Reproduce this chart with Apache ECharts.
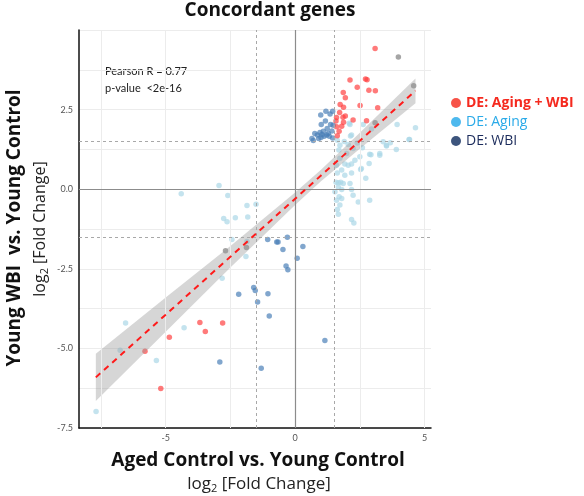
<!DOCTYPE html>
<html>
<head>
<meta charset="utf-8">
<script src="https://cdn.jsdelivr.net/npm/echarts@6/dist/echarts.min.js"></script>
<style>
  html, body { margin: 0; padding: 0; background: #fff; }
  #chart { width: 584px; height: 496px; }
</style>
</head>
<body>
<div id="chart"></div>
<script>
// points: [log2FC aged vs young, log2FC young WBI vs young]
const agingWbi = [
  [3.09, 4.42], [2.12, 3.43], [2.72, 3.46], [2.78, 3.44], [2.40, 3.20], [2.85, 3.11],
  [3.10, 3.09], [1.86, 3.04], [1.94, 2.87], [2.51, 2.63], [1.74, 2.66], [1.87, 2.57],
  [3.19, 2.56], [1.72, 2.41], [1.94, 2.30], [1.60, 2.25], [1.85, 2.26], [2.24, 2.17],
  [2.76, 2.15], [1.58, 2.14], [1.60, 1.96], [1.80, 1.98], [1.87, 2.10], [1.70, 1.82],
  [1.63, 1.68],
  [-3.68, -4.19], [-2.80, -4.20], [-3.47, -4.47], [-4.86, -4.65], [-5.80, -5.09], [-5.19, -6.26]
]
const wbiOnly = [
  [1.19, 2.45], [1.35, 2.36], [1.45, 2.45], [0.99, 2.33], [1.17, 2.14], [1.37, 2.03],
  [1.01, 2.03], [1.47, 2.01], [1.24, 1.91], [1.42, 1.83], [0.76, 1.75], [0.86, 1.70],
  [0.96, 1.78], [1.04, 1.72], [1.12, 1.66], [1.22, 1.70], [1.32, 1.66], [0.65, 1.59],
  [0.91, 1.59], [1.45, 1.61], [1.09, 1.82], [0.70, 1.53], [1.00, 1.62], [1.28, 1.75],
  [-1.06, -1.58], [-0.71, -1.66], [-0.66, -1.66], [-0.30, -1.51], [-0.47, -1.89], [0.30, -1.80],
  [0.08, -2.17], [-0.35, -2.41], [-0.28, -2.53], [-1.60, -3.09], [-1.54, -3.18], [-2.18, -3.30],
  [-1.05, -3.28], [-1.45, -3.54], [-1.00, -3.98], [1.15, -4.75], [-2.91, -5.43], [-1.31, -5.62]
]
const agingOnly = [
  [2.14, 1.67], [1.63, 1.54], [3.40, 1.49], [3.53, 1.38], [3.68, 1.46], [4.42, 1.56],
  [3.91, 1.25], [1.73, 1.38], [2.24, 1.28], [1.69, 1.23], [1.99, 1.12], [2.88, 1.10],
  [2.93, 1.08], [3.27, 1.07], [2.50, 1.02], [1.73, 0.97], [2.31, 0.91], [2.86, 0.81],
  [1.92, 0.79], [2.05, 0.75], [2.18, 0.79], [1.60, 0.75], [2.56, 0.65], [1.80, 0.60],
  [2.18, 0.51], [1.63, 0.51], [2.53, 0.62], [2.73, 0.34], [1.92, 0.44], [1.58, 0.22],
  [1.67, 0.20], [1.76, 0.22], [1.86, 0.18], [2.12, 0.18], [1.67, 0.07], [1.80, -0.01],
  [2.18, -0.01], [1.54, -0.08], [2.24, -0.19], [1.70, -0.24], [1.80, -0.29], [1.60, -0.35],
  [2.88, -0.35], [2.44, -0.40], [1.73, -0.50], [1.63, -0.64], [1.67, -0.79], [2.18, -0.95],
  [2.27, -1.06], [2.12, 2.03], [2.63, 2.03], [3.94, 2.03], [4.65, 1.93], [2.18, 1.70],
  [2.95, 1.89], [2.09, 2.07], [4.40, 1.56], [3.53, 1.36], [3.27, 1.12], [2.40, 1.45],
  [2.60, 1.30], [1.90, 1.50], [2.05, 1.40],
  [-2.94, 0.12], [-4.40, -0.14], [-2.60, -0.20], [-1.86, -0.51], [-1.51, -0.47], [-2.76, -0.92],
  [-2.63, -1.02], [-2.31, -0.90], [-1.83, -0.87], [-2.44, -1.58], [-1.86, -1.64], [-1.90, -2.11],
  [-2.82, -2.80], [-6.55, -4.20], [-4.29, -4.35], [-6.76, -5.06], [-5.36, -5.38], [-7.69, -6.98]
]
const otherGenes = [[3.99, 4.15], [4.58, 3.25], [3.09, 2.09], [-2.69, -1.93], [-1.88, -1.83]]

// linear fit and its 95% band, read at a few x positions
const fitX = [-7.7, -5, -2.5, 0, 1, 2.5, 4.65]
const fitY = [-5.91, -3.94, -2.12, -0.30, 0.43, 1.52, 3.09]
const bandLo = [-6.65, -4.48, -2.46, -0.50, 0.25, 1.27, 2.70]
const bandHi = [-5.17, -3.40, -1.78, -0.10, 0.61, 1.77, 3.48]

const xTicks = [-5, 0, 5]
const xGrid = [-7.5, -5, -2.5, 2.5, 5]
const cutoffs = [-1.5, 1.5]

const legendItems = [
  { name: 'DE: Aging + WBI', icon: '#f5281a', text: '#f52a1f', weight: 'bold' },
  { name: 'DE: Aging', icon: '#22a8ea', text: '#2aaae8', weight: 'normal' },
  { name: 'DE: WBI', icon: '#0c2a5c', text: '#1c2c5c', weight: 'normal' }
]

const chart = echarts.init(document.getElementById('chart'))

const gridLine = { color: '#ececec', width: 1, type: 'solid' }
const refLine = { color: '#8c8c8c', width: 1.2, type: 'solid' }
const cutLine = { color: '#a8a8a8', width: 1, type: [3, 3] }

const markLines = [
  ...xGrid.map((v) => ({ xAxis: v, lineStyle: gridLine })),
  ...cutoffs.map((v) => ({ xAxis: v, lineStyle: cutLine })),
  ...cutoffs.map((v) => ({ yAxis: v, lineStyle: cutLine })),
  { xAxis: 0, lineStyle: refLine },
  { yAxis: 0, lineStyle: refLine }
]

const bandPoints = fitX.map((x, i) => [x, bandLo[i], bandHi[i]])

const font = 'Lato, "Open Sans", sans-serif'
const headFont = '"Open Sans", Lato, sans-serif'

function dots(name, data, color) {
  return {
    name,
    type: 'scatter',
    data,
    symbolSize: 5.5,
    itemStyle: { color },
    z: 3
  }
}

chart.setOption({
  animation: false,
  backgroundColor: '#fff',
  grid: { left: 79, right: 153, top: 30, bottom: 68 },
  xAxis: {
    type: 'value',
    min: -8.35,
    max: 5.25,
    axisLine: { show: true, onZero: false, lineStyle: { color: '#111', width: 1.5 } },
    axisTick: { show: false },
    axisLabel: { customValues: xTicks, color: '#555', fontSize: 9, fontFamily: font, margin: 6 },
    splitLine: { show: false }
  },
  yAxis: {
    type: 'value',
    min: -7.5,
    max: 5,
    interval: 1.25,
    axisLine: { show: true, onZero: false, lineStyle: { color: '#111', width: 1.5 } },
    axisTick: { show: false },
    axisLabel: {
      color: '#555',
      fontSize: 9,
      fontFamily: font,
      margin: 6,
      formatter: (v) => {
        const k = v / 2.5
        return Math.abs(k - Math.round(k)) < 1e-6 && v < 5 ? v.toFixed(1) : ''
      }
    },
    splitLine: { lineStyle: { color: '#ececec', width: 1 } }
  },
  legend: {
    orient: 'vertical',
    left: 446,
    top: 91,
    itemWidth: 10,
    itemHeight: 10,
    itemGap: 5,
    icon: 'circle',
    selectedMode: false,
    data: legendItems.map((d) => ({
      name: d.name,
      itemStyle: { color: d.icon },
      textStyle: { color: d.text, fontWeight: d.weight, fontSize: 14, fontFamily: headFont }
    }))
  },
  graphic: [
    {
      type: 'text', x: 270, y: 11,
      style: { text: 'Concordant genes', font: 'bold 19px ' + headFont, fill: '#111', align: 'center', verticalAlign: 'middle' }
    },
    {
      type: 'text', x: 105, y: 66,
      style: { text: 'Pearson R = 0.77', font: '11px ' + font, fill: '#222' }
    },
    {
      type: 'text', x: 105, y: 83,
      style: { text: 'p-value  <2e-16', font: '11px ' + font, fill: '#222' }
    },
    {
      type: 'text', x: 258, y: 461,
      style: { text: 'Aged Control vs. Young Control', font: 'bold 19px ' + headFont, fill: '#111', align: 'center', verticalAlign: 'middle' }
    },
    {
      type: 'text', x: 259, y: 484,
      style: {
        text: 'log{s|2} [Fold Change]',
        font: '17px ' + headFont, fill: '#222', align: 'center', verticalAlign: 'middle',
        rich: { s: { fontSize: 11, fontFamily: headFont, fill: '#222', padding: [9, 0, 0, 0] } }
      }
    },
    {
      type: 'text', x: 15, y: 228, rotation: Math.PI / 2,
      style: { text: 'Young WBI  vs. Young Control', font: 'bold 19px ' + headFont, fill: '#111', align: 'center', verticalAlign: 'middle' }
    },
    {
      type: 'text', x: 40, y: 229, rotation: Math.PI / 2,
      style: {
        text: 'log{s|2} [Fold Change]',
        font: '16px ' + headFont, fill: '#222', align: 'center', verticalAlign: 'middle',
        rich: { s: { fontSize: 11, fontFamily: headFont, fill: '#222', padding: [9, 0, 0, 0] } }
      }
    }
  ],
  series: [
    {
      name: 'ref',
      type: 'scatter',
      data: [],
      silent: true,
      z: 1,
      markLine: { symbol: 'none', silent: true, label: { show: false }, data: markLines }
    },
    dots('DE: Aging', agingOnly, 'rgba(168,214,230,0.85)'),
    dots('DE: WBI', wbiOnly, 'rgba(70,124,182,0.85)'),
    dots('DE: Aging + WBI', agingWbi, 'rgba(255,60,60,0.85)'),
    dots('other', otherGenes, 'rgba(130,130,130,0.9)'),
    {
      name: 'band',
      type: 'custom',
      data: bandPoints,
      silent: true,
      z: 4,
      renderItem: (params, api) => {
        if (params.dataIndex !== 0) return null
        const upper = bandPoints.map((p) => api.coord([p[0], p[2]]))
        const lower = bandPoints.map((p) => api.coord([p[0], p[1]])).reverse()
        return {
          type: 'polygon',
          shape: { points: upper.concat(lower) },
          style: { fill: 'rgba(153,153,153,0.4)' }
        }
      }
    },
    {
      name: 'fit',
      type: 'line',
      data: fitX.map((x, i) => [x, fitY[i]]),
      showSymbol: false,
      silent: true,
      z: 5,
      lineStyle: { color: '#ff1a1a', width: 2, type: [6, 5] }
    }
  ]
})
</script>
</body>
</html>
